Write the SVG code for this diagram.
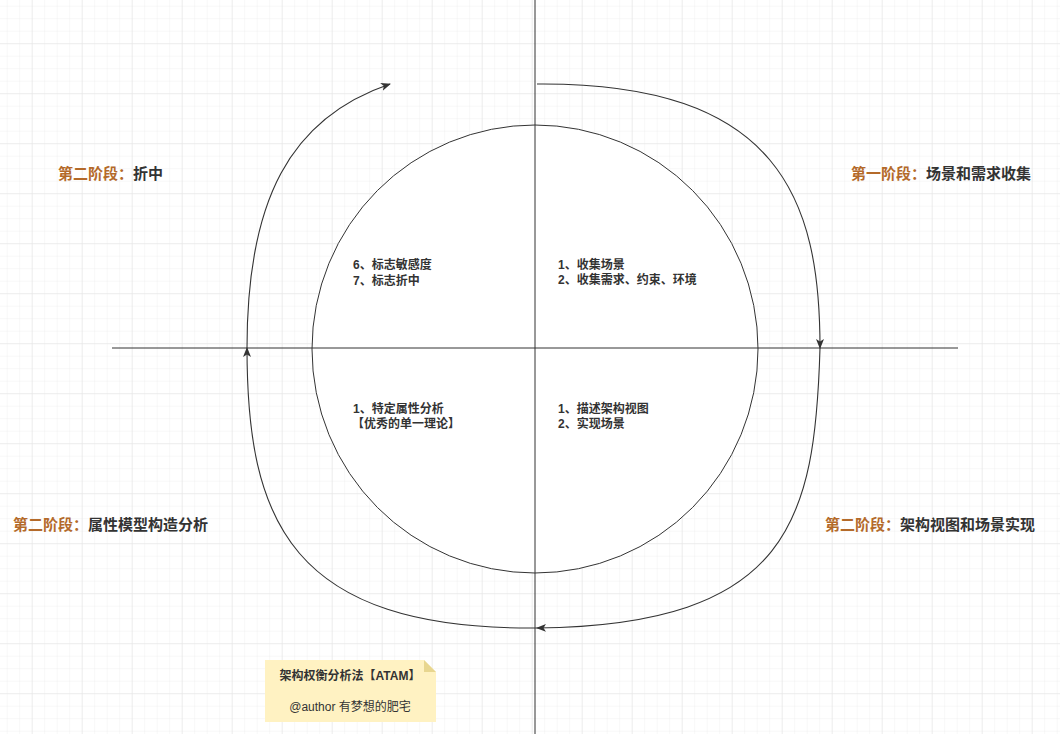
<svg xmlns="http://www.w3.org/2000/svg" width="1060" height="734" viewBox="0 0 1060 734">
<style>
.ln{fill:none;stroke:#333;stroke-width:1}
.arc{fill:none;stroke:#333;stroke-width:1.1}
.t{font-family:"Liberation Sans","Noto Sans CJK SC",sans-serif;font-weight:bold;fill:#333}
.big{font-size:15px}
.sm{font-size:12px}
.ph{fill:#b46a2a}
</style>
<defs>
<pattern id="minor" x="6.7" y="5.7" width="12.5" height="12.5" patternUnits="userSpaceOnUse">
<path d="M0,0 H12.5 M0,0 V12.5" fill="none" stroke="#f0f0f0" stroke-width="1"/>
</pattern>
<pattern id="major" x="31.7" y="43.2" width="50" height="50" patternUnits="userSpaceOnUse">
<path d="M0,0 H50 M0,0 V50" fill="none" stroke="#e3e3e3" stroke-width="1"/>
</pattern>
<marker id="ah" viewBox="0 0 10 10" refX="9" refY="5" markerWidth="10" markerHeight="10" markerUnits="userSpaceOnUse" orient="auto">
<path d="M0,1 L10,5 L0,9 L2.5,5 Z" fill="#333"/>
</marker>
</defs>
<rect width="1060" height="734" fill="#ffffff"/>
<rect width="1060" height="734" fill="url(#minor)"/>
<rect width="1060" height="734" fill="url(#major)"/>

<g id="circle">
<ellipse cx="535" cy="349" rx="223" ry="224" fill="#ffffff" stroke="#333" stroke-width="1"/>
</g>

<g id="connectors">
<line class="ln" x1="535" y1="0" x2="535" y2="734"/>
<line class="ln" x1="112" y1="348" x2="958" y2="348"/>
<path class="arc" d="M537,84 C780,82 820,200 820,348" marker-end="url(#ah)"/>
<path class="arc" d="M820,348 C815,520 790,625 537,628" marker-end="url(#ah)"/>
<path class="arc" d="M537,628 C290,630 247,520 247,348" marker-end="url(#ah)"/>
<path class="arc" d="M247,348 C247,200 290,118 390,84" marker-end="url(#ah)"/>
</g>

<g id="label-tl"><text class="t big" x="58" y="178.5"><tspan class="ph">第二阶段：</tspan>折中</text></g>
<g id="label-tr"><text class="t big" x="851" y="178.5"><tspan class="ph">第一阶段：</tspan>场景和需求收集</text></g>
<g id="label-bl"><text class="t big" x="13" y="529.5"><tspan class="ph">第二阶段：</tspan>属性模型构造分析</text></g>
<g id="label-br"><text class="t big" x="825" y="529.5"><tspan class="ph">第二阶段：</tspan>架构视图和场景实现</text></g>

<g id="q-tl"><text class="t sm" x="353" y="269">6、标志敏感度</text><text class="t sm" x="353" y="285">7、标志折中</text></g>
<g id="q-tr"><text class="t sm" x="558" y="269">1、收集场景</text><text class="t sm" x="558" y="284">2、收集需求、约束、环境</text></g>
<g id="q-bl"><text class="t sm" x="353" y="413">1、特定属性分析</text><text class="t sm" x="352" y="428">【优秀的单一理论】</text></g>
<g id="q-br"><text class="t sm" x="558" y="413">1、描述架构视图</text><text class="t sm" x="558" y="428">2、实现场景</text></g>

<g id="note">
<path d="M265,660 H424 L436,672 V722 H265 Z" fill="#fff2c2"/>
<path d="M424,660 L436,672 H424 Z" fill="#e8d68f"/>
<text class="t sm" x="350" y="680" text-anchor="middle">架构权衡分析法【ATAM】</text>
<text x="350" y="711" text-anchor="middle" font-family="Liberation Sans,'Noto Sans CJK SC',sans-serif" font-size="12" fill="#333">@author 有梦想的肥宅</text>
</g>
</svg>
